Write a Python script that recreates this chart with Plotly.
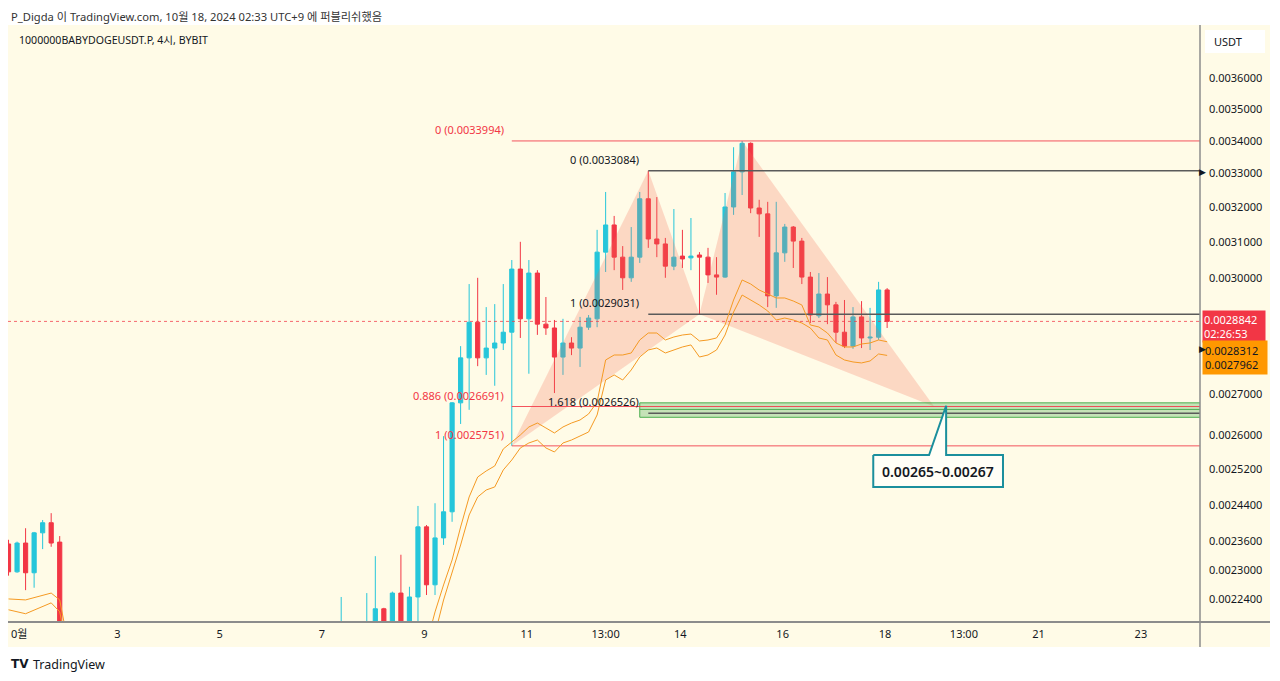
import math
import plotly.graph_objects as go

# ---------------- data ----------------
times = [
    "2024-09-30 21:00", "2024-10-01 01:00", "2024-10-01 05:00", "2024-10-01 09:00", "2024-10-01 13:00",
    "2024-10-01 17:00", "2024-10-01 21:00",
    "2024-10-07 09:00", "2024-10-07 21:00",
    "2024-10-08 01:00", "2024-10-08 05:00", "2024-10-08 09:00", "2024-10-08 13:00", "2024-10-08 17:00",
    "2024-10-08 21:00", "2024-10-09 01:00", "2024-10-09 05:00", "2024-10-09 09:00", "2024-10-09 13:00",
    "2024-10-09 17:00", "2024-10-09 21:00", "2024-10-10 01:00", "2024-10-10 05:00", "2024-10-10 09:00",
    "2024-10-10 13:00", "2024-10-10 17:00", "2024-10-10 21:00", "2024-10-11 01:00", "2024-10-11 05:00",
    "2024-10-11 09:00", "2024-10-11 13:00", "2024-10-11 17:00", "2024-10-11 21:00", "2024-10-12 01:00",
    "2024-10-12 05:00", "2024-10-12 09:00", "2024-10-12 13:00", "2024-10-12 17:00", "2024-10-12 21:00",
    "2024-10-13 01:00", "2024-10-13 05:00", "2024-10-13 09:00", "2024-10-13 13:00", "2024-10-13 17:00",
    "2024-10-13 21:00", "2024-10-14 01:00", "2024-10-14 05:00", "2024-10-14 09:00", "2024-10-14 13:00",
    "2024-10-14 17:00", "2024-10-14 21:00", "2024-10-15 01:00", "2024-10-15 05:00", "2024-10-15 09:00",
    "2024-10-15 13:00", "2024-10-15 17:00", "2024-10-15 21:00", "2024-10-16 01:00", "2024-10-16 05:00",
    "2024-10-16 09:00", "2024-10-16 13:00", "2024-10-16 17:00", "2024-10-16 21:00", "2024-10-17 01:00",
    "2024-10-17 05:00", "2024-10-17 09:00", "2024-10-17 13:00", "2024-10-17 17:00", "2024-10-17 21:00",
    "2024-10-18 01:00",
]
opens = [
    0.002355, 0.002296, 0.002357, 0.002294, 0.002379, 0.002401, 0.002359,
    0.002130, 0.002150,
    0.002170, 0.002220, 0.002180, 0.002252, 0.002190,
    0.002244, 0.002392, 0.002269, 0.002368, 0.002425,
    0.002678, 0.002790, 0.002882, 0.002790, 0.002815,
    0.002828, 0.002856, 0.003025, 0.002891, 0.003014,
    0.002877, 0.002867, 0.002792, 0.002828, 0.002815,
    0.002869, 0.002891, 0.003072, 0.003149, 0.003058,
    0.003001, 0.003058, 0.003225, 0.003109, 0.003095,
    0.003033, 0.003061, 0.003056, 0.003064, 0.003058,
    0.003009, 0.003003, 0.003201, 0.003305, 0.003392,
    0.003198, 0.003181, 0.002952, 0.003070, 0.003143,
    0.003103, 0.003003, 0.002899, 0.002957, 0.002928,
    0.002856, 0.002820, 0.002896, 0.002841, 0.002843,
    0.002968,
]
highs = [
    0.002364, 0.002360, 0.002389, 0.002381, 0.002407, 0.002422, 0.002372,
    0.002244, 0.002252,
    0.002329, 0.002222, 0.002255, 0.002332, 0.002265,
    0.002438, 0.002396, 0.002444, 0.002598, 0.002680,
    0.002820, 0.002984, 0.003001, 0.002922, 0.002930,
    0.002984, 0.003050, 0.003101, 0.003050, 0.003022,
    0.002949, 0.002888, 0.002891, 0.002843, 0.002896,
    0.002901, 0.003135, 0.003245, 0.003175, 0.003089,
    0.003143, 0.003245, 0.0033084, 0.003230, 0.003112,
    0.003195, 0.003135, 0.003169, 0.003072, 0.003084,
    0.003058, 0.003242, 0.003380, 0.0033994, 0.003395,
    0.003222, 0.003216, 0.003216, 0.003152, 0.003146,
    0.003112, 0.003017, 0.003014, 0.003003, 0.002936,
    0.002941, 0.002922, 0.002938, 0.002920, 0.002990,
    0.002973,
]
lows = [
    0.002288, 0.002294, 0.002258, 0.002263, 0.002344, 0.002349, 0.002120,
    0.002110, 0.002130,
    0.002150, 0.002160, 0.002160, 0.002170, 0.002170,
    0.002190, 0.002248, 0.002248, 0.002353, 0.002403,
    0.002627, 0.002661, 0.002769, 0.002747, 0.002720,
    0.002810, 0.0025751, 0.002841, 0.002750, 0.002849,
    0.002849, 0.002702, 0.002747, 0.002797, 0.002767,
    0.002862, 0.002869, 0.003017, 0.003022, 0.002968,
    0.002990, 0.003042, 0.003084, 0.003058, 0.003001,
    0.003022, 0.003028, 0.003022, 0.0029031, 0.002987,
    0.002955, 0.003001, 0.003178, 0.003236, 0.003183,
    0.003115, 0.002922, 0.002920, 0.003045, 0.003028,
    0.002984, 0.002880, 0.002893, 0.002877, 0.002828,
    0.002815, 0.002813, 0.002815, 0.002810, 0.002836,
    0.002867,
]
closes = [
    0.002296, 0.002357, 0.002294, 0.002379, 0.002401, 0.002357, 0.002140,
    0.002150, 0.002170,
    0.002220, 0.002180, 0.002252, 0.002190, 0.002244,
    0.002392, 0.002269, 0.002368, 0.002425, 0.002678,
    0.002790, 0.002882, 0.002790, 0.002815, 0.002828,
    0.002856, 0.003025, 0.002891, 0.003014, 0.002877,
    0.002867, 0.002792, 0.002828, 0.002815, 0.002869,
    0.002893, 0.003072, 0.003149, 0.003058, 0.003001,
    0.003058, 0.003225, 0.003109, 0.003095, 0.003033,
    0.003058, 0.003053, 0.003061, 0.003058, 0.003009,
    0.003003, 0.003201, 0.003305, 0.003392, 0.003198,
    0.003181, 0.002952, 0.003070, 0.003143, 0.003103,
    0.003003, 0.002901, 0.002957, 0.002928, 0.002856,
    0.002820, 0.002896, 0.002841, 0.002843, 0.002968,
    0.0028842,
]

# indicator bands (two orange lines)
band_left_times = ["2024-09-30 21:00", "2024-10-01 05:00", "2024-10-01 17:00", "2024-10-01 21:00", "2024-10-02 01:00"]
band_left_upper = [0.002240, 0.002238, 0.002252, 0.002238, 0.002150]
band_left_lower = [0.002218, 0.002210, 0.002232, 0.002214, 0.002130]

band_times = [
    "2024-10-09 01:00", "2024-10-09 05:00", "2024-10-09 09:00", "2024-10-09 13:00", "2024-10-09 17:00",
    "2024-10-09 21:00", "2024-10-10 01:00", "2024-10-10 05:00", "2024-10-10 09:00", "2024-10-10 13:00",
    "2024-10-10 17:00", "2024-10-10 21:00", "2024-10-11 01:00", "2024-10-11 05:00", "2024-10-11 09:00",
    "2024-10-11 13:00", "2024-10-11 17:00", "2024-10-11 21:00", "2024-10-12 01:00", "2024-10-12 05:00",
    "2024-10-12 09:00", "2024-10-12 13:00", "2024-10-12 17:00", "2024-10-12 21:00", "2024-10-13 01:00",
    "2024-10-13 05:00", "2024-10-13 09:00", "2024-10-13 13:00", "2024-10-13 17:00", "2024-10-13 21:00",
    "2024-10-14 01:00", "2024-10-14 05:00", "2024-10-14 09:00", "2024-10-14 13:00", "2024-10-14 17:00",
    "2024-10-14 21:00", "2024-10-15 01:00", "2024-10-15 05:00", "2024-10-15 09:00", "2024-10-15 13:00",
    "2024-10-15 17:00", "2024-10-15 21:00", "2024-10-16 01:00", "2024-10-16 05:00", "2024-10-16 09:00",
    "2024-10-16 13:00", "2024-10-16 17:00", "2024-10-16 21:00", "2024-10-17 01:00", "2024-10-17 05:00",
    "2024-10-17 09:00", "2024-10-17 13:00", "2024-10-17 17:00", "2024-10-17 21:00", "2024-10-18 01:00",
]
band_upper = [
    0.002150, 0.0022136, 0.0022687, 0.0023208, 0.0023917,
    0.0024580, 0.0025031, 0.0025169, 0.0025284, 0.0025678,
    0.0025842, 0.0026007, 0.0026198, 0.0026293, 0.0026174,
    0.0026055, 0.0026198, 0.0026293, 0.0026365, 0.0026510,
    0.0026801, 0.0027846, 0.0027973, 0.0027973, 0.0028024,
    0.0028358, 0.0028539, 0.0028539, 0.0028358, 0.0028436,
    0.0028487, 0.0028513, 0.0028332, 0.0028358, 0.0028410,
    0.0028748, 0.0029410, 0.0029951, 0.0029842, 0.0029679,
    0.0029572, 0.0029464, 0.0029464, 0.0029383, 0.0029277,
    0.0028748, 0.0028696, 0.0028539, 0.0028281, 0.0028178,
    0.0028178, 0.0028255, 0.0028281, 0.0028358, 0.0028312,
]
band_lower = [
    0.002120, 0.002170, 0.0022378, 0.0022936, 0.0023528,
    0.0024180, 0.0024580, 0.0024737, 0.0024805, 0.0025192,
    0.0025422, 0.0025702, 0.0025819, 0.0025889, 0.0025702,
    0.0025608, 0.0025819, 0.0025889, 0.0025984, 0.0026078,
    0.0026486, 0.0027343, 0.0027469, 0.0027343, 0.0027594,
    0.0027922, 0.0028101, 0.0028152, 0.0028024, 0.0028101,
    0.0028178, 0.0028230, 0.0027922, 0.0027973, 0.0028101,
    0.0028487, 0.0029090, 0.0029544, 0.0029410, 0.0029277,
    0.0029117, 0.0028879, 0.0028931, 0.0028879, 0.0028800,
    0.0028669, 0.0028410, 0.0028358, 0.0027973, 0.0027846,
    0.0027796, 0.0027771, 0.0027821, 0.0027999, 0.0027962,
]

# XABCD pattern points
pattern_names = ["X", "A", "B", "C", "D"]
pattern_times = ["2024-10-10 17:00", "2024-10-13 09:00", "2024-10-14 09:00", "2024-10-15 05:00", "2024-10-18 23:00"]
pattern_prices = [0.0025751, 0.0033084, 0.0029031, 0.0033994, 0.0026691]

# Fibonacci A-B (black) and X-C (red)
fib_ab_start = "2024-10-13 09:00"
fib_ab_levels = ["0", "1", "1.618"]
fib_ab_prices = [0.0033084, 0.0029031, 0.0026526]
fib_xc_start = "2024-10-10 17:00"
fib_xc_levels = ["0", "0.886", "1"]
fib_xc_prices = [0.0033994, 0.0026691, 0.0025751]

# target zone
zone_start = "2024-10-13 05:00"
zone_top = 0.002678
zone_mid = 0.002662
zone_bottom = 0.002643
zone_text = "0.00265~0.00267"

current_price = 0.0028842
countdown = "02:26:53"
band_last = [0.0028312, 0.0027962]

y_tick_vals = [0.0036, 0.0035, 0.0034, 0.0033, 0.0032, 0.0031, 0.0030, 0.0029,
               0.0027, 0.0026, 0.00252, 0.00244, 0.00236, 0.0023, 0.00224]
x_tick_vals = ["2024-10-01 02:00", "2024-10-03", "2024-10-05", "2024-10-07", "2024-10-09", "2024-10-11",
               "2024-10-12 13:00", "2024-10-14", "2024-10-16", "2024-10-18", "2024-10-19 13:00",
               "2024-10-21", "2024-10-23"]
x_tick_text = ["0월", "3", "5", "7", "9", "11", "13:00", "14", "16", "18", "13:00", "21", "23"]

# ---------------- styling ----------------
OFF = 8                      # page body margin around the figure
FW, FH = 1264, 665
L, T = 0, 17
PW, PH = 1192, 597
R = FW - L - PW
B = FH - T - PH

def px_x(page_x):
    return (page_x - OFF - L) / PW

def px_y(page_y):
    return (T + PH - (page_y - OFF)) / PH

CREAM = "#fffbe7"
UP = "#26c6da"
DOWN = "#f23645"
ORANGE = "#f59a23"
TXT = "#131722"
FONT = "Noto Sans, Noto Sans CJK KR, sans-serif"
X_RANGE = ["2024-09-30 20:45", "2024-10-24 03:43"]
X_FAR = "2024-10-27"
Y_RANGE = [math.log10(0.00219344), math.log10(0.00377802)]

fig = go.Figure()

fig.add_trace(go.Candlestick(
    x=times, open=opens, high=highs, low=lows, close=closes,
    increasing=dict(line=dict(color=UP, width=1), fillcolor=UP),
    decreasing=dict(line=dict(color=DOWN, width=1), fillcolor=DOWN),
    whiskerwidth=0, hoverinfo="skip", showlegend=False,
))

# pattern fills (triangles XAB and BCD)
for idx in ([0, 1, 2, 0], [2, 3, 4, 2]):
    fig.add_trace(go.Scatter(
        x=[pattern_times[i] for i in idx], y=[pattern_prices[i] for i in idx],
        mode="lines", fill="toself", fillcolor="rgba(242,105,85,0.24)",
        line=dict(width=0, color="rgba(0,0,0,0)"), hoverinfo="skip", showlegend=False,
    ))

# current price dotted line
fig.add_trace(go.Scatter(x=[X_RANGE[0], X_FAR], y=[current_price, current_price], mode="lines",
                         line=dict(color="rgba(242,54,69,0.75)", width=1, dash="dot"),
                         hoverinfo="skip", showlegend=False))

# target zone rectangle
fig.add_trace(go.Scatter(
    x=[zone_start, X_FAR, X_FAR, zone_start, zone_start],
    y=[zone_bottom, zone_bottom, zone_top, zone_top, zone_bottom],
    mode="lines", fill="toself", fillcolor="rgba(76,175,80,0.32)",
    line=dict(color="#4caf50", width=1), hoverinfo="skip", showlegend=False,
))
fig.add_trace(go.Scatter(x=[zone_start, X_FAR], y=[zone_mid, zone_mid], mode="lines",
                         line=dict(color="#4caf50", width=1), hoverinfo="skip", showlegend=False))

# fib lines
for p in fib_xc_prices:
    fig.add_trace(go.Scatter(x=[fib_xc_start, X_FAR], y=[p, p], mode="lines",
                             line=dict(color="rgba(242,54,69,0.85)", width=1),
                             hoverinfo="skip", showlegend=False))
for p in fib_ab_prices:
    fig.add_trace(go.Scatter(x=[fib_ab_start, X_FAR], y=[p, p], mode="lines",
                             line=dict(color="#5a5a5a", width=1.5),
                             hoverinfo="skip", showlegend=False))

# orange bands
for up_vals, lo_vals, tt in ((band_left_upper, band_left_lower, band_left_times),
                             (band_upper, band_lower, band_times)):
    fig.add_trace(go.Scatter(x=tt, y=up_vals, mode="lines", line=dict(color=ORANGE, width=1),
                             hoverinfo="skip", showlegend=False))
    fig.add_trace(go.Scatter(x=tt, y=lo_vals, mode="lines", line=dict(color=ORANGE, width=1),
                             hoverinfo="skip", showlegend=False))

# callout box with pointer
cb_left, cb_right = "2024-10-17 18:30", "2024-10-20 07:20"
cb_wedge_l, cb_wedge_r = "2024-10-18 20:40", "2024-10-19 04:40"
cb_top, cb_bot = 0.0025538, 0.0024805
fig.add_trace(go.Scatter(
    x=[cb_left, cb_wedge_l, cb_wedge_r, cb_wedge_r, cb_right, cb_right, cb_left, cb_left],
    y=[cb_top, cb_top, 0.002671, cb_top, cb_top, cb_bot, cb_bot, cb_top],
    mode="lines", fill="toself", fillcolor="#fffef6",
    line=dict(color="#1b8f9d", width=2), hoverinfo="skip", showlegend=False,
))

ann = []
lg = math.log10
ann.append(dict(x="2024-10-19 00:50", y=lg(0.0025165), xref="x", yref="y", text=zone_text,
                showarrow=False, font=dict(family=FONT, size=14, color=TXT, weight=600)))

for lvl, p in zip(fib_ab_levels, fib_ab_prices):
    ann.append(dict(x=fib_ab_start, y=lg(p), xref="x", yref="y", text=f"{lvl} ({p:.7f})",
                    xanchor="right", yanchor="bottom", xshift=-7, yshift=2, showarrow=False,
                    font=dict(family=FONT, size=11, color=TXT)))
for lvl, p in zip(fib_xc_levels, fib_xc_prices):
    ann.append(dict(x=fib_xc_start, y=lg(p), xref="x", yref="y", text=f"{lvl} ({p:.7f})",
                    xanchor="right", yanchor="bottom", xshift=-6, yshift=2, showarrow=False,
                    font=dict(family=FONT, size=11, color="#f23645")))

# right-hand price labels
ann.append(dict(x=1, y=lg(current_price), xref="paper", yref="y", xanchor="left", yanchor="middle",
                xshift=2, yshift=-5, text=f"{current_price:.7f}<br>{countdown}", align="left",
                showarrow=False, bgcolor="#f23645", borderpad=1, width=60,
                font=dict(family=FONT, size=11, color="white")))
ann.append(dict(x=1, y=lg(band_last[0]), xref="paper", yref="y", xanchor="left", yanchor="middle",
                xshift=2, yshift=-16, text=f"{band_last[0]:.7f}<br>{band_last[1]:.7f}", align="left",
                showarrow=False, bgcolor="#ff9800", borderpad=2, width=60,
                font=dict(family=FONT, size=11, color=TXT)))
for p, ys in ((fib_ab_prices[0], -1), (band_last[0], -7)):
    ann.append(dict(x=1, y=lg(p), xref="paper", yref="y", xanchor="left", yanchor="middle",
                    xshift=-3, yshift=ys, text="▶", showarrow=False,
                    font=dict(family="DejaVu Sans", size=9, color=TXT)))

# header / footer texts
ann.append(dict(x=px_x(10), y=1 + T / PH, xref="paper", yref="paper", xanchor="left", yanchor="top",
                text="P_Digda 이 TradingView.com, 10월 18, 2024 02:33 UTC+9 에 퍼블리쉬했음",
                showarrow=False, borderpad=0, font=dict(family=FONT, size=11.2, color="#333333")))
ann.append(dict(x=px_x(17), y=px_y(40), xref="paper", yref="paper", xanchor="left", yanchor="middle",
                text="1000000BABYDOGEUSDT.P, 4시, BYBIT", showarrow=False,
                font=dict(family=FONT, size=10.6, color=TXT)))
ann.append(dict(x=px_x(1212), y=px_y(41), xref="paper", yref="paper", xanchor="left", yanchor="middle",
                text="USDT", showarrow=False, font=dict(family=FONT, size=11, color=TXT)))
ann.append(dict(x=px_x(9), y=px_y(664), xref="paper", yref="paper", xanchor="left", yanchor="middle",
                text="<b>TV</b>", showarrow=False, font=dict(family="DejaVu Sans", size=12, color=TXT)))
ann.append(dict(x=px_x(31), y=px_y(664), xref="paper", yref="paper", xanchor="left", yanchor="middle",
                text="TradingView", showarrow=False, font=dict(family=FONT, size=12.5, color=TXT)))

shapes = [
    dict(type="rect", xref="paper", yref="paper", x0=px_x(8), x1=px_x(1270), y0=px_y(647), y1=px_y(25),
         fillcolor=CREAM, line=dict(width=0), layer="below"),
    dict(type="rect", xref="paper", yref="paper", x0=px_x(1205), x1=px_x(1265), y0=px_y(53), y1=px_y(30),
         fillcolor="white", line=dict(width=0), layer="below"),
    dict(type="line", xref="paper", yref="paper", x0=px_x(8), x1=px_x(1270), y0=0, y1=0,
         line=dict(color="#8c8c8c", width=2)),
    dict(type="line", xref="paper", yref="paper", x0=1, x1=1, y0=px_y(647), y1=1,
         line=dict(color="#8c8c8c", width=1.5)),
]

fig.update_layout(
    width=FW, height=FH,
    margin=dict(l=L, r=R, t=T, b=B),
    paper_bgcolor="white", plot_bgcolor=CREAM,
    showlegend=False,
    font=dict(family=FONT, size=11, color=TXT),
    annotations=ann, shapes=shapes,
    xaxis=dict(type="date", range=X_RANGE, tickvals=x_tick_vals, ticktext=x_tick_text,
               showgrid=False, zeroline=False, showline=False, ticks="",
               tickfont=dict(family=FONT, size=11, color=TXT), ticklabelstandoff=4,
               rangeslider=dict(visible=False), fixedrange=True),
    yaxis=dict(type="log", range=Y_RANGE, side="right", tickvals=y_tick_vals,
               ticktext=[f"{v:.7f}" for v in y_tick_vals],
               showgrid=False, zeroline=False, showline=False, ticks="",
               tickfont=dict(family=FONT, size=11, color=TXT), ticklabelstandoff=8, fixedrange=True),
)

fig.write_html("out.html")
